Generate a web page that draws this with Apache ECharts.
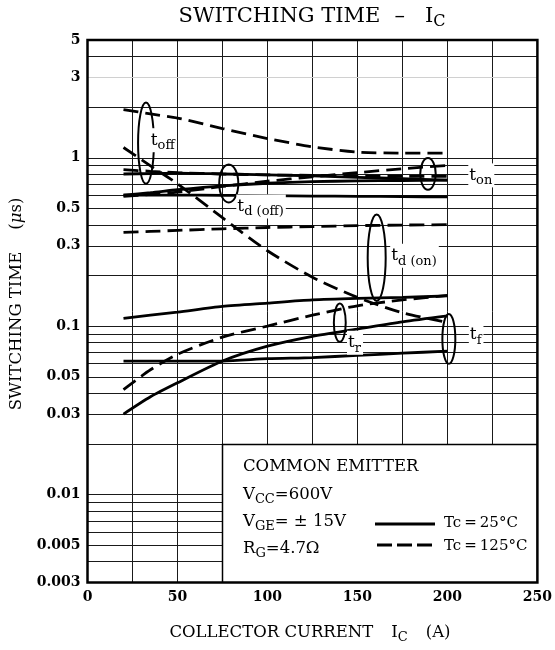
<!DOCTYPE html>
<html><head><meta charset="utf-8">
<script src="https://cdn.jsdelivr.net/npm/echarts@6/dist/echarts.min.js"></script>
<style>html,body{margin:0;padding:0;background:#fff}#c{width:555px;height:650px}</style>
</head><body><div id="c"></div>
<script>
// ---- data ----
const ic = [20, 35, 50, 75, 100, 125, 150, 175, 200];
const toff125  = [1.93, 1.82, 1.72, 1.49, 1.30, 1.16, 1.08, 1.065, 1.065];
const tf125    = [1.15, 0.895, 0.70, 0.44, 0.28, 0.195, 0.148, 0.120, 0.105];
const ton125   = [0.85, 0.83, 0.815, 0.80, 0.79, 0.785, 0.78, 0.776, 0.774];
const toff25   = [0.80, 0.805, 0.81, 0.80, 0.79, 0.78, 0.765, 0.75, 0.735];
const ton25    = [0.60, 0.62, 0.645, 0.68, 0.705, 0.72, 0.728, 0.732, 0.735];
const tdoff125 = [0.59, 0.605, 0.625, 0.675, 0.725, 0.77, 0.815, 0.86, 0.90];
const tdoff25  = [0.60, 0.60, 0.60, 0.598, 0.595, 0.592, 0.59, 0.587, 0.585];
const tdon125  = [0.36, 0.365, 0.37, 0.378, 0.385, 0.39, 0.395, 0.398, 0.40];
const tdon25   = [0.111, 0.116, 0.121, 0.131, 0.137, 0.143, 0.146, 0.148, 0.151];
const tr125    = [0.042, 0.055, 0.068, 0.086, 0.100, 0.116, 0.132, 0.143, 0.152];
const tr25     = [0.030, 0.038, 0.046, 0.062, 0.076, 0.087, 0.096, 0.106, 0.115];
const tf25     = [0.062, 0.062, 0.062, 0.062, 0.064, 0.065, 0.067, 0.069, 0.071];

const solidSeries  = [toff25, ton25, tdoff25, tdon25, tr25, tf25];
const dashedSeries = [toff125, tf125, ton125, tdoff125, tdon125, tr125];

const xTickLabels = [0, 50, 100, 150, 200, 250];
const yTickLabels = ['5', '3', '1', '0.5', '0.3', '0.1', '0.05', '0.03', '0.01', '0.005', '0.003'];
const yGridFull = [4, 3, 2, 1, 0.9, 0.8, 0.7, 0.6, 0.5, 0.4, 0.3, 0.2, 0.1, 0.09, 0.08, 0.07, 0.06, 0.05, 0.04, 0.03, 0.02];
const yGridLeft = [0.01, 0.009, 0.008, 0.007, 0.006, 0.005, 0.004];
const xMin = 0, xMax = 250, yMin = 0.003, yMax = 5;
const boxX = 75, boxTop = 0.02;

// annotation loops: [xCenter, yTop, yBottom, halfWidthX]
const loops = [
  [32.5, 2.13, 0.70, 4.4],
  [78.5, 0.912, 0.542, 5.3],
  [189.2, 0.995, 0.645, 4.3],
  [160.7, 0.46, 0.141, 5.0],
  [140.2, 0.136, 0.0806, 3.3],
  [200.8, 0.118, 0.0597, 3.6]
];
// annotation labels: [x, y, main, sub]
const labelPos = [
  [34.6, 1.27, 't', 'off'],
  [82.7, 0.513, 't', 'd (off)'],
  [211.6, 0.785, 't', 'on'],
  [168.2, 0.262, 't', 'd (on)'],
  [144.2, 0.0796, 't', 'r'],
  [211.9, 0.0886, 't', 'f']
];

const FF = 'DejaVu Serif';
const chart = echarts.init(document.getElementById('c'), null, {renderer: 'canvas'});

const series = [];
// horizontal grid lines
series.push({
  type: 'custom', z: 1, silent: true, clip: false,
  data: yGridFull.map(v => [xMin, v]).concat(yGridLeft.map(v => [xMin, v])),
  renderItem: (p, api) => {
    const v = api.value(1);
    const right = p.dataIndex < yGridFull.length ? xMax : boxX;
    const a = api.coord([xMin, v]), b = api.coord([right, v]);
    const y = Math.round(a[1]) + 0.5;
    return {type: 'line', shape: {x1: a[0], y1: y, x2: b[0], y2: y},
      style: {stroke: v === 3 ? '#d0d0d0' : '#1a1a1a', lineWidth: 1}};
  }
});
// legend box
series.push({
  type: 'custom', z: 3, silent: true, clip: false,
  data: [[boxX, boxTop]],
  renderItem: (p, api) => {
    const tl = api.coord([boxX, boxTop]), br = api.coord([xMax, yMin]);
    return {type: 'group', children: [
      {type: 'rect', shape: {x: tl[0], y: tl[1] + 1, width: br[0] - tl[0], height: br[1] - tl[1]}, style: {fill: '#fff'}},
      {type: 'line', shape: {x1: Math.round(tl[0]) + 0.5, y1: tl[1], x2: Math.round(tl[0]) + 0.5, y2: br[1]}, style: {stroke: '#000', lineWidth: 1.5}},
      {type: 'line', shape: {x1: tl[0], y1: Math.round(tl[1]) + 0.5, x2: br[0], y2: Math.round(tl[1]) + 0.5}, style: {stroke: '#000', lineWidth: 1.5}}
    ]};
  }
});
// curves
solidSeries.forEach(arr => series.push({
  type: 'line', z: 5, silent: true, showSymbol: false, smooth: 0.25,
  data: ic.map((x, i) => [x, arr[i]]),
  lineStyle: {color: '#000', width: 2.8, type: 'solid'}
}));
dashedSeries.forEach(arr => series.push({
  type: 'line', z: 5, silent: true, showSymbol: false, smooth: 0.25,
  data: ic.map((x, i) => [x, arr[i]]),
  lineStyle: {color: '#000', width: 2.8, type: [15, 7]}
}));
// loops
series.push({
  type: 'custom', z: 6, silent: true, clip: false,
  data: loops.map(l => [l[0], l[1], l[2], l[3]]),
  renderItem: (p, api) => {
    const cx = api.value(0), top = api.value(1), bot = api.value(2), hw = api.value(3);
    const t = api.coord([cx, top]), b = api.coord([cx, bot]);
    const r = api.coord([cx + hw, top]);
    return {type: 'ellipse', shape: {cx: t[0], cy: (t[1] + b[1]) / 2, rx: r[0] - t[0], ry: (b[1] - t[1]) / 2},
      style: {fill: null, stroke: '#000', lineWidth: 2}};
  }
});
// curve labels
series.push({
  type: 'custom', z: 7, silent: true, clip: false,
  data: labelPos.map(l => [l[0], l[1]]),
  renderItem: (p, api) => {
    const l = labelPos[p.dataIndex];
    const c = api.coord([l[0], l[1]]);
    return {type: 'text', x: c[0], y: c[1], z2: 10,
      style: {text: '{m|' + l[2] + '}{s|' + l[3] + '}', align: 'left', verticalAlign: 'middle',
        backgroundColor: '#fff', padding: [0, 2, 0, 1],
        rich: {
          m: {fontFamily: FF, fontSize: 17, lineHeight: 24, fill: '#000', color: '#000'},
          s: {fontFamily: FF, fontSize: 13, lineHeight: 12, verticalAlign: 'bottom', color: '#000', fill: '#000'}
        }}};
  }
});
// y tick labels
series.push({
  type: 'custom', z: 7, silent: true, clip: false,
  data: yTickLabels.map(s => [xMin, parseFloat(s)]),
  renderItem: (p, api) => {
    const c = api.coord([xMin, api.value(1)]);
    return {type: 'text', x: c[0] - 7, y: c[1],
      style: {text: yTickLabels[p.dataIndex], align: 'right', verticalAlign: 'middle',
        font: 'bold 14px "DejaVu Serif"', fill: '#000'}};
  }
});
// frame
series.push({
  type: 'custom', z: 9, silent: true, clip: false,
  data: [[xMin, yMax]],
  renderItem: (p, api) => {
    const a = api.coord([xMin, yMax]), b = api.coord([xMax, yMin]);
    return {type: 'rect', shape: {x: a[0], y: a[1], width: b[0] - a[0], height: b[1] - a[1]},
      style: {fill: null, stroke: '#000', lineWidth: 2.5}};
  }
});

const option = {
  animation: false,
  backgroundColor: '#fff',
  grid: {left: 87.5, right: 15.5, top: 40, bottom: 67.5},
  xAxis: {
    type: 'value', min: xMin, max: xMax, interval: 25,
    axisLine: {show: false}, axisTick: {show: false},
    splitLine: {show: true, lineStyle: {color: '#1a1a1a', width: 1}},
    axisLabel: {
      margin: 8, color: '#000', fontFamily: FF, fontWeight: 'bold', fontSize: 14,
      formatter: v => (xTickLabels.indexOf(v) >= 0 ? String(v) : '')
    }
  },
  yAxis: {
    type: 'log', logBase: 10, min: yMin, max: yMax,
    axisLine: {show: false}, axisTick: {show: false}, axisLabel: {show: false}, splitLine: {show: false}
  },
  graphic: [
    {type: 'text', x: 312, y: 17, style: {
      text: '{a|SWITCHING TIME}{b|–}{a|I}{c|C}', align: 'center', verticalAlign: 'middle',
      rich: {
        a: {fontFamily: FF, fontSize: 21, lineHeight: 26, color: '#000'},
        b: {fontFamily: FF, fontSize: 21, lineHeight: 26, color: '#000', padding: [0, 20, 0, 14]},
        c: {fontFamily: FF, fontSize: 16, lineHeight: 14, verticalAlign: 'bottom', color: '#000'}
      }}},
    {type: 'text', x: 310, y: 633, style: {
      text: '{a|COLLECTOR CURRENT}{g|}{a|I}{c|C}{g|}{a|(A)}', align: 'center', verticalAlign: 'middle',
      rich: {
        a: {fontFamily: FF, fontSize: 16.5, lineHeight: 22, color: '#000'},
        g: {width: 18},
        c: {fontFamily: FF, fontSize: 13, lineHeight: 12, verticalAlign: 'bottom', color: '#000'}
      }}},
    {type: 'text', x: 17, y: 304, rotation: Math.PI / 2, style: {
      text: '{a|SWITCHING TIME}{g|}{a|(}{m|μ}{a|s)}', align: 'center', verticalAlign: 'middle',
      rich: {
        a: {fontFamily: FF, fontSize: 16.5, lineHeight: 22, color: '#000'},
        m: {fontFamily: FF, fontSize: 16.5, fontStyle: 'italic', lineHeight: 22, color: '#000'},
        g: {width: 22}
      }}},
    // legend box text
    {type: 'text', x: 243, y: 467, z: 100, style: {text: 'COMMON EMITTER', font: '16.5px "DejaVu Serif"', fill: '#000', verticalAlign: 'middle'}},
    {type: 'text', x: 243, y: 495, z: 100, style: {text: '{a|V}{s|CC}{a|=600V}', verticalAlign: 'middle',
      rich: {a: {fontFamily: FF, fontSize: 16.5, lineHeight: 22, color: '#000'}, s: {fontFamily: FF, fontSize: 13, lineHeight: 12, verticalAlign: 'bottom', color: '#000'}}}},
    {type: 'text', x: 243, y: 522, z: 100, style: {text: '{a|V}{s|GE}{a|= ± 15V}', verticalAlign: 'middle',
      rich: {a: {fontFamily: FF, fontSize: 16.5, lineHeight: 22, color: '#000'}, s: {fontFamily: FF, fontSize: 13, lineHeight: 12, verticalAlign: 'bottom', color: '#000'}}}},
    {type: 'text', x: 243, y: 549, z: 100, style: {text: '{a|R}{s|G}{a|=4.7Ω}', verticalAlign: 'middle',
      rich: {a: {fontFamily: FF, fontSize: 16.5, lineHeight: 22, color: '#000'}, s: {fontFamily: FF, fontSize: 13, lineHeight: 12, verticalAlign: 'bottom', color: '#000'}}}},
    {type: 'line', z: 100, shape: {x1: 375, y1: 524, x2: 435, y2: 524}, style: {stroke: '#000', lineWidth: 3}},
    {type: 'line', z: 100, shape: {x1: 377, y1: 545, x2: 435, y2: 545}, style: {stroke: '#000', lineWidth: 3, lineDash: [15, 5]}},
    {type: 'text', x: 444, y: 523, z: 100, style: {text: 'Tc\u2009=\u200925°C', font: '15px "DejaVu Serif"', fill: '#000', verticalAlign: 'middle'}},
    {type: 'text', x: 444, y: 546, z: 100, style: {text: 'Tc\u2009=\u2009125°C', font: '15px "DejaVu Serif"', fill: '#000', verticalAlign: 'middle'}}
  ],
  series: series
};
chart.setOption(option);
</script>
</body></html>
